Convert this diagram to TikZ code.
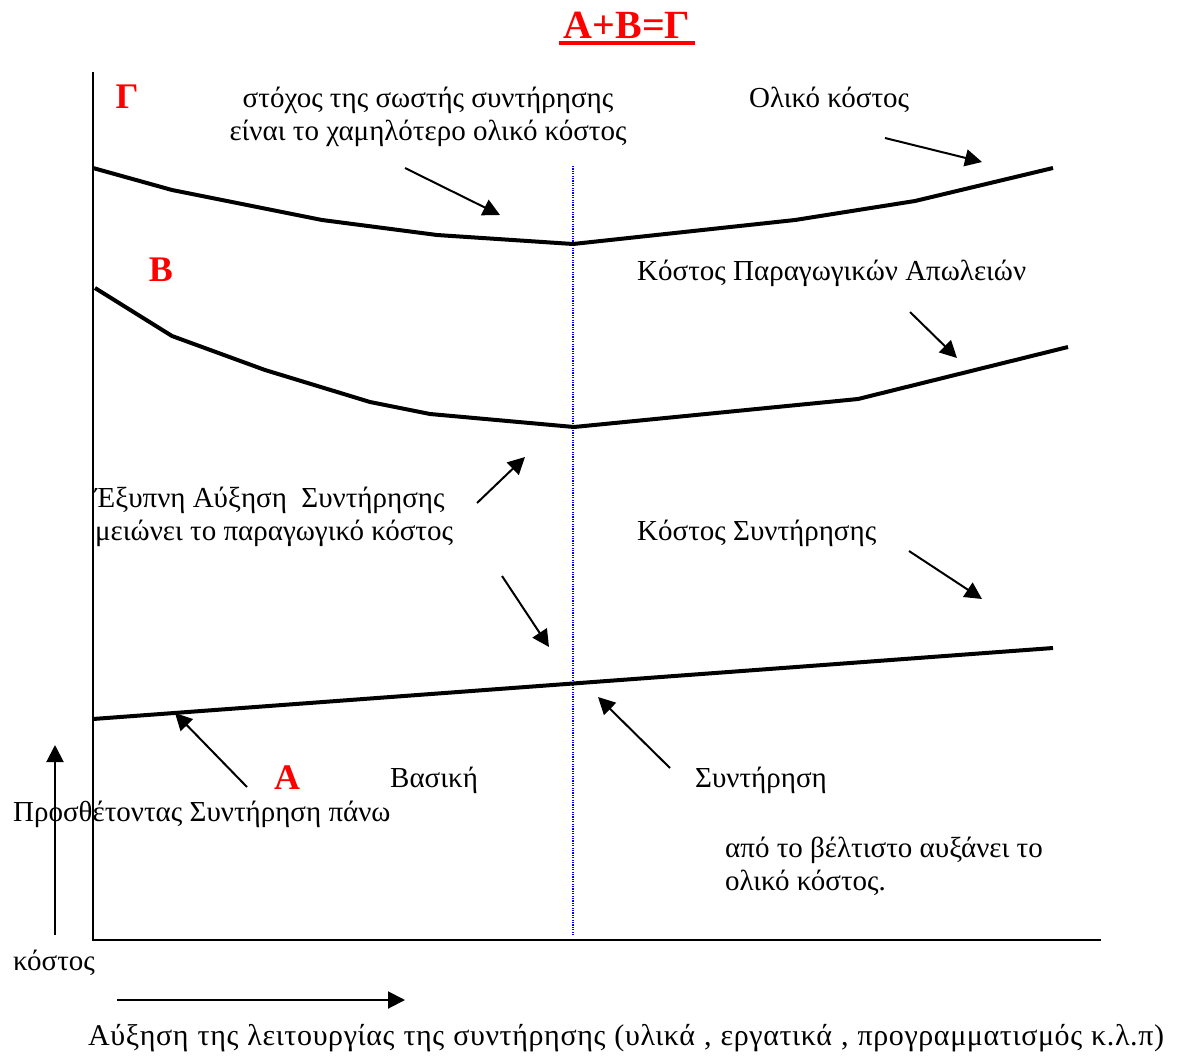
\documentclass[tikz,border=0pt]{standalone}
\usepackage{fontspec}
\setmainfont{Liberation Serif}
\usetikzlibrary{arrows.meta}
\tikzstyle{chart} = [x=1pt, y=-1pt]
\definecolor{letterRed}{RGB}{255,0,0}
\definecolor{optimumBlue}{RGB}{0,0,255}
\tikzstyle{axisLine} = [line width=2pt]
\tikzstyle{costCurve} = [line width=4pt, line join=round]
\tikzstyle{optimumLine} = [color=optimumBlue, line width=1.2pt, dash pattern=on 1.2pt off 1.2pt]
\tikzstyle{pointerStyle} = [line width=2pt, -{Triangle[length=17pt, width=17pt]}]
\tikzstyle{noteText} = [font=\fontsize{29}{33}\selectfont, inner sep=0pt, anchor=west]
\tikzstyle{curveLetter} = [font=\fontsize{36}{40}\selectfont\bfseries, text=letterRed, inner sep=0pt]
\newcommand{\pointerArrow}[3]{\coordinate (#1Tail) at (#2); \coordinate (#1Tip) at (#3); \draw [pointerStyle] (#1Tail) -- (#1Tip);}

\begin{document}
\begin{tikzpicture}[chart]
  \useasboundingbox (0,0) rectangle (1191,1057);
  % title
  \node [curveLetter, font=\fontsize{40}{44}\selectfont\bfseries] (title) at (627,25) {A+B=Γ};
  \draw [color=letterRed, line width=4pt] (559,43) -- (695,43);
  % axes
  \coordinate (origin) at (93,940);
  \coordinate (costTop) at (93,72);
  \coordinate (workEnd) at (1101,940);
  \draw [axisLine] (costTop) -- (origin) -- (workEnd);
  \coordinate (costArrowStart) at (55,935);
  \coordinate (costArrowEnd) at (55,745);
  \draw [pointerStyle] (costArrowStart) -- (costArrowEnd);
  \coordinate (workArrowStart) at (117,1000);
  \coordinate (workArrowEnd) at (405,1000);
  \draw [pointerStyle] (workArrowStart) -- (workArrowEnd);
  % optimum
  \coordinate (optimumTop) at (573,166);
  \coordinate (optimumBottom) at (573,935);
  \draw [optimumLine] (optimumTop) -- (optimumBottom);
  % curves
  \draw [costCurve] (93,168) -- (172,190) -- (322,220) -- (437,235) -- (573,244) -- (795,220) -- (915,201) -- (1053,168);
  \draw [costCurve] (95,288) -- (172,336) -- (265,370) -- (370,402) -- (430,414) -- (574,427) -- (858,399) -- (1068,347);
  \draw [costCurve] (93,719) -- (1053,648);
  % letters
  \node [curveLetter] (letterG) at (127,97) {Γ};
  \node [curveLetter] (letterB) at (161,270) {B};
  \node [curveLetter] (letterA) at (287,778) {A};
  % texts
  \node [noteText, anchor=center, align=center] (goalText) at (428,117) {στόχος της σωστής συντήρησης\\είναι το χαμηλότερο ολικό κόστος};
  \node [noteText] (totalText) at (749,100) {Ολικό κόστος};
  \node [noteText] (lossText) at (637,273) {Κόστος Παραγωγικών Απωλειών};
  \node [noteText, align=left] (smartText) at (95,517) {Έξυπνη Αύξηση~ Συντήρησης\\μειώνει το παραγωγικό κόστος};
  \node [noteText] (maintText) at (637,533) {Κόστος Συντήρησης};
  \node [noteText] (basicText) at (390,780) {Βασική};
  \node [noteText] (upkeepText) at (695,780) {Συντήρηση};
  \node [noteText] (addingText) at (13,814) {Προσθέτοντας Συντήρηση πάνω};
  \node [noteText, align=left] (beyondText) at (725,866) {από το βέλτιστο αυξάνει το\\ολικό κόστος.};
  \node [noteText] (costText) at (13,963) {κόστος};
  \node [noteText, font=\fontsize{30}{33}\selectfont\addfontfeature{LetterSpace=2}] (workText) at (88,1038) {\spaceskip=0.3em Αύξηση της λειτουργίας της συντήρησης (υλικά , εργατικά , προγραμματισμός κ.λ.π)};
  % pointers
  \pointerArrow{goal}{405,168}{500,215}
  \pointerArrow{total}{885,138}{982,162}
  \pointerArrow{loss}{910,312}{957,358}
  \pointerArrow{smartUp}{477,503}{525,457}
  \pointerArrow{smartDown}{502,576}{549,647}
  \pointerArrow{maint}{909,551}{982,599}
  \pointerArrow{upkeep}{670,768}{598,697}
  \pointerArrow{basic}{247,787}{175,713}
\end{tikzpicture}
\end{document}
